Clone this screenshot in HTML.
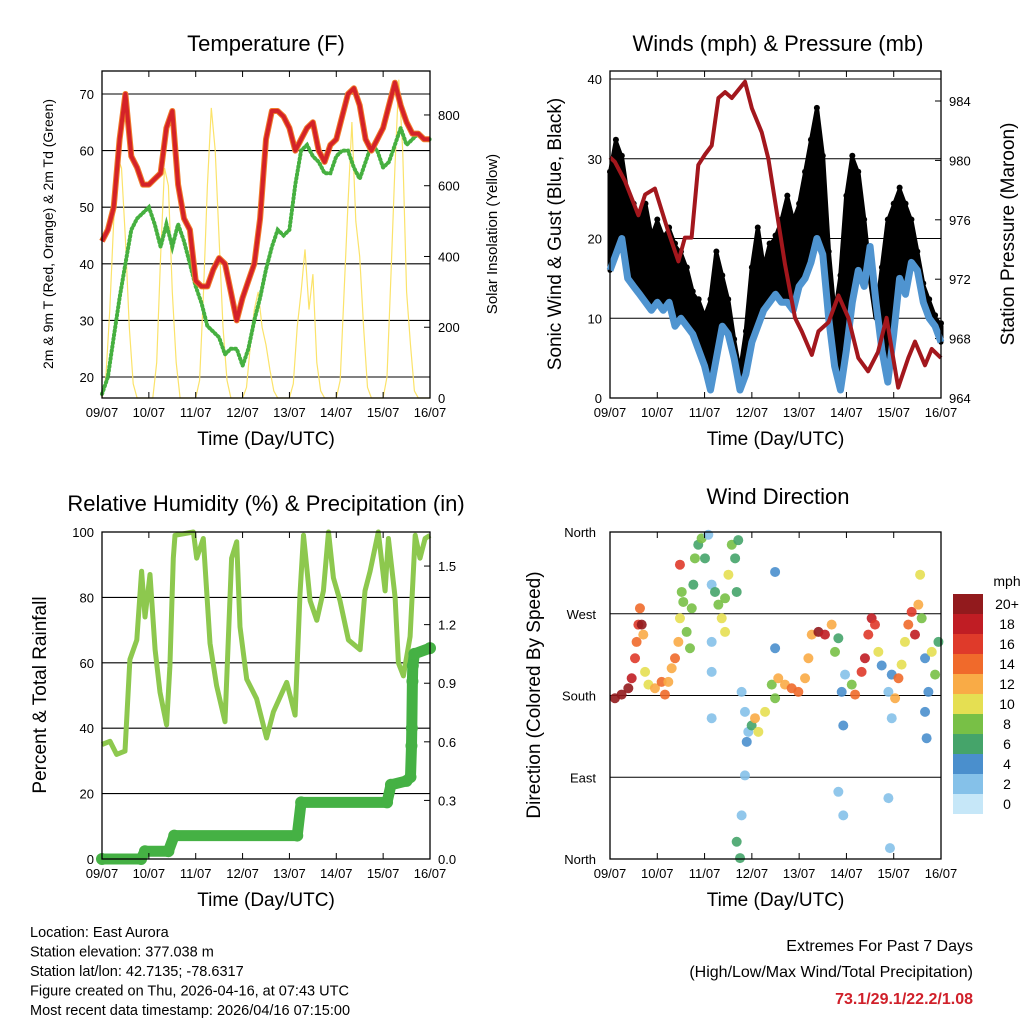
<!DOCTYPE html>
<html><head><meta charset="utf-8"><style>
html,body{margin:0;padding:0;background:#fff}
svg{display:block}
text{font-family:"Liberation Sans",sans-serif;fill:#000}
</style></head><body>
<svg id="c" width="1024" height="1024" viewBox="0 0 1024 1024" xmlns="http://www.w3.org/2000/svg"></svg>
<script>
// ---------- data ----------
const dayLabels=["09/07","10/07","11/07","12/07","13/07","14/07","15/07","16/07"];
const tHours=[0,3,6,9,12,15,18,21,24,27,30,33,36,39,42,45,48,51,54,57,60,63,66,69,72,75,78,81,84,87,90,93,96,99,102,105,108,111,114,117,120,123,126,129,132,135,138,141,144,147,150,153,156,159,162,165,168];
const temp2m=[44,46,50,62,70,59,57,54,54,55,56,64,67,54,48,46,37,36,36,39,41,40,35,30,34,37,40,48,62,67,67,66,64,60,62,64,65,60,58,61,62,66,70,71,68,62,60,62,64,68,72,68,65,63,63,62,62];
const dewpt=[17,20,27,34,40,46,48,49,50,47,43,47,43,47,44,40,36,33,29,28,27,24,25,25,22,25,30,34,39,43,46,45,46,54,60,61,59,58,56,56,59,60,60,57,55,58,61,60,57,58,61,64,61,62,63,62,62];
const solarHours=[];for(let h=0;h<=168;h+=2)solarHours.push(h);
const solar=[0,60,250,500,680,650,450,200,40,0,0,0,
0,0,100,400,650,600,300,100,0,0,0,0,
0,50,300,600,820,700,450,200,50,0,0,0,
0,30,150,250,300,200,150,80,20,0,0,0,
0,40,200,300,420,250,350,100,20,0,0,0,
0,50,300,550,780,500,400,200,30,0,0,0,
0,60,350,650,900,700,300,150,20,0,0,0,0];
const windMean=[16,18,20,15,14,13,12,11,12,11,12,9,10,9,8,6,4,1,5,9,8,5,1,3,7,9,11,12,13,12,12,11,14,15,17,20,18,10,4,1,6,12,16,14,19,12,6,2,8,15,13,17,16,12,10,9,7];
const windGust=[28,32,30,25,24,22,24,20,22,20,21,19,18,16,13,12,10,12,18,15,12,7,3,8,16,21,16,19,20,22,25,22,24,28,32,36,30,18,10,15,25,30,28,22,15,10,16,22,24,26,24,22,18,14,12,10,9];
const pressHours=[0,2.5,7.6,14.4,17.8,22.8,29.6,34.7,38,41.4,44.8,48.2,51.6,55,58.4,61.8,68.5,72,77,80.4,88.8,93.9,97.3,102.4,105.8,110.9,116,121,126,131,136,140.4,143,146.3,151.4,154.8,159.9,163.3,168];
const pressure=[980.2,979.9,978.6,976.3,977.7,978.1,975.2,973.2,974.8,974.8,979.7,980.4,981,984.2,984.6,984.2,985.3,983.5,981.9,980.1,973,969.4,968.5,966.9,968.5,969.1,970.9,969.4,966.7,965.8,967.1,969.4,967.3,964.7,966.7,967.8,966.2,967.3,966.7];
const rhHours=[0,4.1,7.5,11.8,14.3,17.8,20.3,22,24.6,27.2,29.7,33.1,34.8,36.5,37.4,46.8,48.5,51.9,55.3,58.7,63,66.4,69,70.7,74.1,79.2,84.3,87.8,94.6,98.9,101.4,103.2,106.6,110,113.4,116,118.5,121.9,126.2,132.2,134.7,137.3,141.5,145,146.7,150.1,151.8,154.4,157.8,160.4,162.9,165.5,168];
const rh=[35,36,32,33,61,67,88,74,87,64,51,41,59,92,99,100,92,98,66,53,42,92,97,71,55,49,37,45,54,44,81,99,79,73,82,100,86,79,67,64,82,88,100,82,98,80,60,56,68,99,92,98,99];
const rainHours=[0,20,22,34,37,100,102,146,148,156,158,158.5,158.7,159,159.2,160,168];
const rain=[0,0,0.04,0.04,0.12,0.12,0.29,0.29,0.38,0.40,0.42,0.58,0.67,0.91,0.99,1.05,1.08];
const dirHours=[2.5,5.9,9.3,11,12.7,13.5,14.4,15.2,16.1,16.9,17.8,19.5,22.8,26.2,27.9,29.6,31.3,33,34.7,35.5,36.4,35.5,37.2,38.9,40.6,41.5,42.3,43.1,44.8,46.5,48.2,49.9,51.6,51.6,51.6,51.6,53.3,55,56.7,58.4,60.1,61.8,63.5,65.1,64.3,58.4,66.8,68.5,69.4,68.5,66.8,64.3,66,70.2,71.9,73.6,75.3,78.7,82.1,83.8,85.4,88.8,92.2,95.6,99,100.7,102.4,105.8,109.1,112.5,114.2,115.9,117.6,118.4,119.3,115.9,118.4,122.7,124.4,127.7,129.4,131.1,132.8,134.5,136.2,137.9,141.3,143,141.3,142.1,143,144.7,146.4,148,149.7,151.4,153.1,154.8,156.5,157.4,158.2,159.9,161.6,163.3,165,166.7,159.9,160.7,83.8,83.8];
const dirDeg=[177,181,188,199,221,239,258,276,258,247,206,192,188,195,181,195,210,221,239,265,294,324,283,250,232,276,302,331,346,353,331,357,302,239,206,155,294,280,265,287,313,346,331,351,294,250,184,162,129,92,48,19,1,140,147,155,140,162,192,177,199,192,188,184,199,221,247,250,247,258,228,243,184,147,203,74,48,192,181,206,221,247,265,258,228,213,184,155,67,12,203,177,199,214,239,258,272,247,280,313,265,221,184,228,203,239,162,133,316,232];
const dirSpeed=[20,20,19,18,16,14,16,14,20,12,9,10,12,14,13,12,12,14,12,10,8,16,8,7,7,7,6,8,6,7,6,2,1,1,1,1,6,8,9,8,10,8,6,6,6,10,1,1,3,1,1,6,6,1,5,12,9,10,8,7,11,12,14,14,12,12,12,20,18,12,8,6,4,4,2,1,1,8,14,16,18,16,18,16,9,4,2,1,1,1,4,12,13,10,10,14,16,18,12,10,8,4,3,10,8,6,4,4,3,4];
const speedBins=["0","2","4","6","8","10","12","14","16","18","20+"];
const dirLabels=["North","East","South","West","North"];
const summary="73.1/29.1/22.2/1.08";

// ---------- helpers ----------
const NS="http://www.w3.org/2000/svg";
const svg=document.getElementById('c');
function mk(tag,attrs,parent){const e=document.createElementNS(NS,tag);for(const k in attrs)e.setAttribute(k,attrs[k]);(parent||svg).appendChild(e);return e;}
function txt(s,x,y,size,anchor,parent,extra){const e=mk('text',Object.assign({x:x,y:y,'font-size':size,'text-anchor':anchor||'middle'},extra||{}),parent);e.textContent=s;return e;}
const binColors=["#c6e7f8","#85c1e9","#4a8fcd","#45a46a","#78c046","#e5df52","#f9ab46","#f06a2b","#df3a2a","#c01d24","#921a1d"];
function speedColor(v){let i=Math.min(10,Math.max(0,Math.round(v/2)));return binColors[i];}
function pathOf(xs,ys,fx,fy){return xs.map((t,i)=>(i?'L':'M')+fx(t).toFixed(1)+','+fy(ys[i]).toFixed(1)).join('');}

function frame(g,L,T,R,B,name){
  mk('rect',{x:L,y:T,width:R-L,height:B-T,fill:'none',stroke:'#000','stroke-width':1.3},g);
  for(let d=0;d<8;d++){const x=L+d*(R-L)/7;
    mk('line',{x1:x,x2:x,y1:B,y2:B-6,stroke:'#000'},g);
    mk('line',{x1:x,x2:x,y1:T,y2:T+6,stroke:'#000'},g);
    const l=txt(dayLabels[d],x,B+19,13,'middle',g);
    
    
  }
  const xt=txt('Time (Day/UTC)',(L+R)/2,B+47,19,'middle',g);
  
  
}

// ===== Panel 1: Temperature =====
(function(){
  const g=mk('g',{});
  
  
  const L=102,R=430,T=71,B=398;
  const fx=t=>L+t*(R-L)/168, fy=v=>377-(v-20)*5.66, fs=v=>398-v*0.3538;
  [20,30,40,50,60,70].forEach(v=>{mk('line',{x1:L,x2:R,y1:fy(v),y2:fy(v),stroke:'#000','stroke-width':1.1},g);
    const l=txt(String(v),L-8,fy(v)+5,13,'end',g);});
  [0,200,400,600,800].forEach(v=>{mk('line',{x1:R,x2:R-6,y1:fs(v),y2:fs(v),stroke:'#000'},g);
    const l=txt(String(v),R+8,fs(v)+5,13,'start',g);});
  const sp=mk('path',{d:pathOf(solarHours,solar,fx,fs),fill:'none',stroke:'#fbe36a','stroke-width':1.2},g);
  
  const dp=mk('path',{d:pathOf(tHours,dewpt,fx,fy),fill:'none',stroke:'#46b040','stroke-width':4,'stroke-dasharray':'1 3','stroke-linecap':'round'},g);
  
  const op=mk('path',{d:pathOf(tHours,temp2m,fx,fy),fill:'none',stroke:'#f07b2a','stroke-width':6,'stroke-linejoin':'round'},g);
  
  const rp=mk('path',{d:pathOf(tHours,temp2m,fx,fy),fill:'none',stroke:'#d42228','stroke-width':4,'stroke-linejoin':'round'},g);
  
  frame(g,L,T,R,B,'temp');
  const t=txt('Temperature (F)',266,51,22,'middle',g);
  const yl=txt('2m & 9m T (Red, Orange) & 2m Td (Green)',0,0,14,'middle',g,{transform:'translate(53,234) rotate(-90)'});
  
  const yr=txt('Solar Insolation (Yellow)',0,0,15,'middle',g,{transform:'translate(497,234) rotate(-90)'});
  
})();

// ===== Panel 2: Winds =====
(function(){
  const g=mk('g',{});
  
  
  const L=610,R=941,T=71,B=398;
  const fx=t=>L+t*(R-L)/168, fy=v=>B-v*7.975, fp=p=>B-(p-964)*14.85;
  [0,10,20,30,40].forEach(v=>{mk('line',{x1:L,x2:R,y1:fy(v),y2:fy(v),stroke:'#000','stroke-width':1.1},g);
    const l=txt(String(v),L-8,fy(v)+5,13,'end',g);});
  [964,968,972,976,980,984].forEach(v=>{mk('line',{x1:R,x2:R-6,y1:fp(v),y2:fp(v),stroke:'#000'},g);
    const l=txt(String(v),R+8,fp(v)+5,13,'start',g);});
  let d=pathOf(tHours,windGust,fx,fy);
  for(let i=tHours.length-1;i>=0;i--)d+='L'+fx(tHours[i]).toFixed(1)+','+fy(windMean[i]).toFixed(1);
  const band=mk('path',{d:d+'Z',fill:'#000',stroke:'#000','stroke-width':5,'stroke-linejoin':'round'},g);
  
  tHours.forEach((t,i)=>{const c=mk('circle',{cx:fx(t),cy:fy(windGust[i])-3,r:3,fill:'#000'},g);
    
    });
  const wl=mk('path',{d:pathOf(tHours,windMean,fx,fy),fill:'none',stroke:'#4f94d0','stroke-width':7,'stroke-linejoin':'round'},g);
  
  const pl=mk('path',{d:pathOf(pressHours,pressure,fx,fp),fill:'none',stroke:'#a3171d','stroke-width':4,'stroke-linejoin':'round'},g);
  
  frame(g,L,T,R,B,'winds');
  const t=txt('Winds (mph) & Pressure (mb)',778,51,22,'middle',g);
  const yl=txt('Sonic Wind & Gust (Blue, Black)',0,0,19,'middle',g,{transform:'translate(561,234) rotate(-90)'});
  
  const yr=txt('Station Pressure (Maroon)',0,0,19,'middle',g,{transform:'translate(1014,234) rotate(-90)'});
  
})();

// ===== Panel 3: RH & Precip =====
(function(){
  const g=mk('g',{});
  
  
  const L=102,R=430,T=532,B=859;
  const fx=t=>L+t*(R-L)/168, fy=v=>B-v*3.27, fr=p=>B-p*195.3;
  [0,20,40,60,80,100].forEach(v=>{mk('line',{x1:L,x2:R,y1:fy(v),y2:fy(v),stroke:'#000','stroke-width':1.1},g);
    const l=txt(String(v),L-8,fy(v)+5,13,'end',g);});
  [0,0.3,0.6,0.9,1.2,1.5].forEach(v=>{mk('line',{x1:R,x2:R-6,y1:fr(v),y2:fr(v),stroke:'#000'},g);
    const l=txt(v.toFixed(1),R+8,fr(v)+5,13,'start',g);});
  const rl=mk('path',{d:pathOf(rhHours,rh,fx,fy),fill:'none',stroke:'#8dc84e','stroke-width':5,'stroke-linejoin':'round'},g);
  
  const pl=mk('path',{d:pathOf(rainHours,rain,fx,fr),fill:'none',stroke:'#45b144','stroke-width':11,'stroke-linecap':'round','stroke-linejoin':'round'},g);
  
  rainHours.forEach((t,i)=>{const c=mk('circle',{cx:fx(t),cy:fr(rain[i]),r:6,fill:'#45b144'},g);
    
    });
  frame(g,L,T,R,B,'rh');
  const t=txt('Relative Humidity (%) & Precipitation (in)',266,511,22,'middle',g);
  const yl=txt('Percent & Total Rainfall',0,0,19,'middle',g,{transform:'translate(46,695) rotate(-90)'});
  
})();

// ===== Panel 4: Wind direction =====
(function(){
  const g=mk('g',{});
  
  
  const L=610,R=941,T=532,B=859;
  const fx=t=>L+t*(R-L)/168, fy=v=>B-v*(B-T)/360;
  dirLabels.forEach((s,i)=>{const y=fy(i*90);mk('line',{x1:L,x2:R,y1:y,y2:y,stroke:'#000','stroke-width':1.1},g);
    const l=txt(s,L-14,y+5,13,'end',g);});
  dirHours.forEach((t,i)=>{const c=mk('circle',{cx:fx(t),cy:fy(dirDeg[i]),r:5,fill:speedColor(dirSpeed[i]),opacity:0.9},g);
    
    });
  frame(g,L,T,R,B,'dir');
  const t=txt('Wind Direction',778,504,22,'middle',g);
  const yl=txt('Direction (Colored By Speed)',0,0,19,'middle',g,{transform:'translate(540,695) rotate(-90)'});
  
  const lg=mk('g',{},g);
  
  
  txt('mph',1007,586,14,'middle',lg);
  for(let i=0;i<11;i++){const k=10-i;const y=594+i*20;
    const r=mk('rect',{x:953,y:y,width:30,height:20,fill:binColors[k]},lg);
    
    
    const l=txt(speedBins[k],1007,y+15,14,'middle',lg);
    
    }
})();

// ===== Footer =====
(function(){
  const g=mk('g',{});
  
  
  ["Location: East Aurora","Station elevation: 377.038 m","Station lat/lon: 42.7135; -78.6317","Figure created on Thu, 2026-04-16, at 07:43 UTC","Most recent data timestamp: 2026/04/16 07:15:00"].forEach((s,i)=>txt(s,30,937+i*19.5,14.5,'start',g));
  const h=mk('g',{});
  
  
  txt('Extremes For Past 7 Days',973,951,16,'end',h);
  txt('(High/Low/Max Wind/Total Precipitation)',973,977,16,'end',h);
  const s=txt(summary,973,1004,16,'end',h,{'font-weight':'bold',fill:'#d0202a'});
  s.setAttribute('style','fill:#d0202a');
})();
</script>
</body></html>
